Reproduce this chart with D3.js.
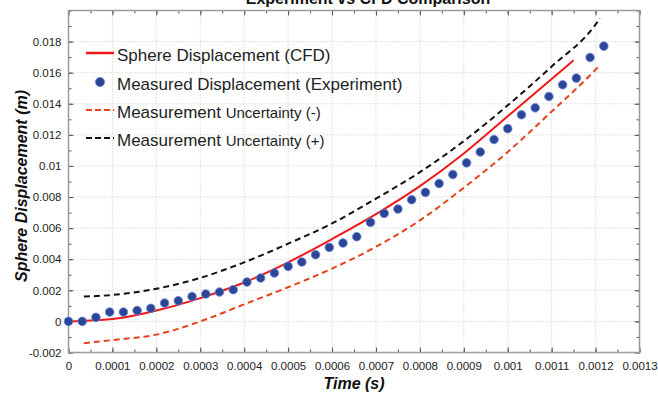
<!DOCTYPE html>
<html><head><meta charset="utf-8">
<script src="https://cdn.jsdelivr.net/npm/d3@7"></script>
<style>
body{margin:0;background:#fff;}
svg{display:block;font-family:"Liberation Sans",Arial,sans-serif;}
</style></head>
<body><svg id="c" width="658" height="394"></svg>
<script>
// ---- data ----
const titleText = "Experiment vs CFD Comparison";
const xLabel = "Time (s)";
const yLabel = "Sphere Displacement (m)";
const xTicks = [0,0.0001,0.0002,0.0003,0.0004,0.0005,0.0006,0.0007,0.0008,0.0009,0.001,0.0011,0.0012,0.0013];
const yTicks = [-0.002,0,0.002,0.004,0.006,0.008,0.01,0.012,0.014,0.016,0.018];
const legendLabels = ["Sphere Displacement (CFD)","Measured Displacement (Experiment)","Measurement Uncertainty (-)","Measurement Uncertainty (+)"];

// CFD curve
const cfdT = [0,0.0001,0.0002,0.0003,0.0004,0.0005,0.0006,0.0007,0.0008,0.0009,0.001,0.0011,0.00115];
const cfdY = [0,0.00015,0.0007,0.0015,0.0025,0.0038,0.0053,0.0069,0.0087,0.0108,0.0132,0.0156,0.0168];

// measured points (frame interval)
const measT = [0,0.00003125,0.0000625,0.00009375,0.000125,0.00015625,0.0001875,0.00021875,0.00025,0.00028125,
  0.0003125,0.00034375,0.000375,0.00040625,0.0004375,0.00046875,0.0005,0.00053125,0.0005625,0.00059375,
  0.000625,0.00065625,0.0006875,0.00071875,0.00075,0.00078125,0.0008125,0.00084375,0.000875,0.00090625,
  0.0009375,0.00096875,0.001,0.00103125,0.0010625,0.00109375,0.001125,0.00115625,0.0011875,0.00121875];
const measY = [0,0,0.00026,0.0006,0.0006,0.0007,0.00084,0.00118,0.00133,0.0016,
  0.00176,0.00189,0.00204,0.00253,0.00279,0.00311,0.00354,0.00382,0.00429,0.00476,
  0.00504,0.00545,0.00637,0.00695,0.00723,0.00783,0.0083,0.00887,0.00945,0.0102,
  0.0109,0.0117,0.0124,0.01329,0.01374,0.01447,0.01522,0.01565,0.01698,0.01771];

// uncertainty bounds
const uncT = [0.000035,0.0001,0.0002,0.0003,0.0004,0.0005,0.0006,0.0007,0.0008,0.0009,0.001,0.0011,0.0012,0.00121];
const uncMinus = [-0.0014,-0.0012,-0.00085,0.0,0.0011,0.0022,0.0034,0.0048,0.0065,0.0086,0.0109,0.0135,0.0162,0.0165];
const uncPlus = [0.0016,0.0017,0.0021,0.0028,0.0038,0.0050,0.0063,0.0079,0.0096,0.0116,0.0139,0.0164,0.0191,0.0195];

// ---- chart ----
const svg = d3.select("#c");
const L=68.5, R=639.5, T=10.5, B=352.5;
const x = d3.scaleLinear().domain([0,0.0013]).range([L,R]);
const y = d3.scaleLinear().domain([-0.002,0.020]).range([B,T]);

// grid
const g = svg.append("g");
g.selectAll(".gx").data(xTicks.slice(1,-1)).join("line")
  .attr("x1",d=>x(d)).attr("x2",d=>x(d)).attr("y1",T).attr("y2",B)
  .attr("stroke","#c8c8c8").attr("stroke-width",1).attr("stroke-dasharray","1,2");
g.selectAll(".gy").data(yTicks.slice(1)).join("line")
  .attr("y1",d=>y(d)).attr("y2",d=>y(d)).attr("x1",L).attr("x2",R)
  .attr("stroke","#c8c8c8").attr("stroke-width",1).attr("stroke-dasharray","1,2");

// axes with inward ticks
const xMinor = d3.range(0,27).map(i=>i*0.00005);
const yMinor = d3.range(0,23).map(i=>-0.002+i*0.001);
function axisGroup(axis, tr){ return svg.append("g").attr("transform",tr).call(axis); }
const fmt = d => d===0 ? "0" : (+d.toPrecision(3)).toString();
const ax1 = axisGroup(d3.axisBottom(x).tickValues(xTicks).tickFormat(fmt).tickSize(-5).tickPadding(9), `translate(0,${B})`);
const ax2 = axisGroup(d3.axisLeft(y).tickValues(yTicks).tickFormat(fmt).tickSize(-5).tickPadding(7), `translate(${L},0)`);
const ax3 = axisGroup(d3.axisTop(x).tickValues(xTicks).tickFormat("").tickSize(-5), `translate(0,${T})`);
const ax4 = axisGroup(d3.axisRight(y).tickValues(yTicks).tickFormat("").tickSize(-5), `translate(${R},0)`);
const mx1 = axisGroup(d3.axisBottom(x).tickValues(xMinor).tickFormat("").tickSize(-3), `translate(0,${B})`);
const mx2 = axisGroup(d3.axisTop(x).tickValues(xMinor).tickFormat("").tickSize(-3), `translate(0,${T})`);
const my1 = axisGroup(d3.axisLeft(y).tickValues(yMinor).tickFormat("").tickSize(-3), `translate(${L},0)`);
const my2 = axisGroup(d3.axisRight(y).tickValues(yMinor).tickFormat("").tickSize(-3), `translate(${R},0)`);
[ax1,ax2,ax3,ax4,mx1,mx2,my1,my2].forEach(a=>{
  a.select(".domain").remove();
  a.selectAll(".tick line").attr("stroke","#555");
  a.selectAll("text").attr("fill","#222").style("font-size","11.5px").style("font-family","'Liberation Sans',Arial,sans-serif");
});
svg.append("rect").attr("x",L).attr("y",T).attr("width",R-L).attr("height",B-T)
  .attr("fill","none").attr("stroke","#9a9a9a").attr("stroke-width",1.5);

// lines
const line = d3.line().curve(d3.curveMonotoneX);
svg.append("path").attr("d",line(uncT.map((t,i)=>[x(t),y(uncPlus[i])])))
  .attr("fill","none").attr("stroke","#111").attr("stroke-width",2).attr("stroke-dasharray","6,4");
svg.append("path").attr("d",line(uncT.map((t,i)=>[x(t),y(uncMinus[i])])))
  .attr("fill","none").attr("stroke","#e8401c").attr("stroke-width",2).attr("stroke-dasharray","6,4");
svg.append("path").attr("d",line(cfdT.map((t,i)=>[x(t),y(cfdY[i])])))
  .attr("fill","none").attr("stroke","#f01818").attr("stroke-width",2);
svg.selectAll(".pt").data(measT).join("circle")
  .attr("cx",d=>x(d)).attr("cy",(d,i)=>y(measY[i])).attr("r",4.3)
  .attr("fill","#2c4696").attr("stroke","#6a82dc").attr("stroke-width",0.8);

// legend
const lg = svg.append("g");
const rows = [53,82,110,138];
lg.append("line").attr("x1",86).attr("x2",114).attr("y1",rows[0]).attr("y2",rows[0]).attr("stroke","#f01818").attr("stroke-width",2.5);
lg.append("circle").attr("cx",100).attr("cy",rows[1]).attr("r",4.6).attr("fill","#2c4696").attr("stroke","#6a82dc").attr("stroke-width",0.8);
lg.append("line").attr("x1",86).attr("x2",114).attr("y1",rows[2]).attr("y2",rows[2]).attr("stroke","#e8401c").attr("stroke-width",2).attr("stroke-dasharray","6,3");
lg.append("line").attr("x1",86).attr("x2",114).attr("y1",rows[3]).attr("y2",rows[3]).attr("stroke","#111").attr("stroke-width",2).attr("stroke-dasharray","6,3");
legendLabels.forEach((s,i)=>{
  const t = lg.append("text").attr("x",117).attr("y",rows[i]+8).attr("fill","#222").style("font-size","17px");
  if(i>=2){
    const k = s.indexOf(" ");
    t.append("tspan").text(s.slice(0,k+1));
    t.append("tspan").style("font-size","15px").text(s.slice(k+1));
  } else t.text(s);
});

// titles (title is clipped at the top edge, as in the reference)
svg.append("text").attr("x",368).attr("y",4).attr("text-anchor","middle")
  .style("font-size","16px").style("font-weight","bold").attr("fill","#111").text(titleText);
svg.append("text").attr("x",(L+R)/2).attr("y",389).attr("text-anchor","middle")
  .style("font-size","16px").style("font-weight","bold").style("font-style","italic").attr("fill","#111").text(xLabel);
svg.append("text").attr("transform",`translate(27,186) rotate(-90)`).attr("text-anchor","middle")
  .style("font-size","16px").style("font-weight","bold").style("font-style","italic").attr("fill","#111").text(yLabel);
</script></body></html>
